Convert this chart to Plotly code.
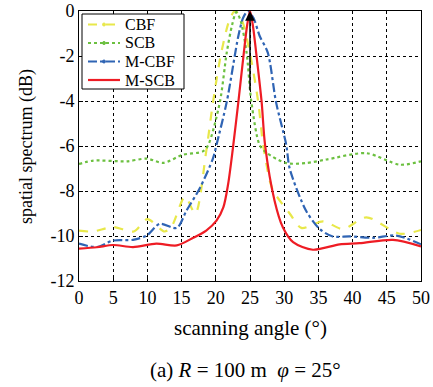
import plotly.graph_objects as go

cbf_x = [0, 2, 5, 8, 10, 12.5, 13.5, 15.5, 17, 18.6, 19.6, 20.8, 22, 22.8, 23.8, 25, 26.2, 26.9, 27.9, 28.4, 30.8, 32.5, 35.7, 38.6, 42, 46.9, 50]
cbf_y = [-9.76, -9.8, -9.6, -9.8, -9.25, -9.8, -9.6, -8.26, -9.0, -6.24, -4.04, -1.85, -0.4, 0, -0.4, -1.9, -4.04, -5.9, -7.56, -8.0, -9.0, -9.64, -9.35, -9.69, -9.17, -9.9, -9.73]

scb_x = [0, 2.1, 7.0, 9.9, 12.3, 15.2, 18.1, 18.9, 20.6, 21.6, 22.4, 23.0, 23.6, 24.5, 25.2, 26.4, 27.4, 30.3, 33.2, 36.2, 42.0, 46.9, 50]
scb_y = [-6.8, -6.65, -6.68, -6.56, -6.75, -6.39, -6.24, -5.95, -4.04, -1.85, -0.6, -0.05, -0.4, -1.85, -4.04, -5.95, -6.3, -6.76, -6.76, -6.6, -6.32, -6.83, -6.68]

mcbf_x = [0, 2.6, 5.0, 7.9, 9.9, 11.8, 14.3, 15.7, 17.7, 19.6, 20.1, 21.6, 23.3, 24.0, 24.7, 25.5, 26.4, 27.6, 28.8, 30.3, 30.8, 33.2, 35.2, 37.1, 39.6, 43.0, 46.4, 50]
mcbf_y = [-10.34, -10.49, -10.2, -10.17, -9.98, -9.46, -9.64, -8.88, -7.85, -6.54, -5.95, -4.04, -1.11, -0.3, 0, -0.3, -1.1, -1.85, -4.04, -5.95, -7.0, -8.88, -9.69, -10.02, -10.02, -10.08, -9.98, -10.37]

mscb_x = [0, 2.6, 5.0, 7.9, 11.3, 14.3, 16.7, 18.6, 20.1, 21.1, 21.8, 22.5, 23.3, 24.1, 24.6, 25.0, 25.4, 25.9, 26.7, 27.2, 28.6, 29.8, 31.3, 34.2, 38.1, 41.0, 45.9, 50]
mscb_y = [-10.56, -10.5, -10.4, -10.49, -10.34, -10.42, -10.08, -9.76, -9.32, -8.73, -7.7, -6.1, -4.04, -1.85, -0.6, 0, -0.6, -1.85, -4.04, -5.95, -8.44, -9.61, -10.27, -10.61, -10.37, -10.32, -10.17, -10.46]

x_ticks = [0, 5, 10, 15, 20, 25, 30, 35, 40, 45, 50]
y_ticks = [0, -2, -4, -6, -8, -10, -12]
y_tick_text = ["0", "-2", "-4", "-6", "-8", "-10", "-12"]

series_names = ["CBF", "SCB", "M-CBF", "M-SCB"]
series_colors = ["#e8e84a", "#6cc040", "#2f64b4", "#ee1c24"]
series_dash = ["dash", "dot", "dashdot", "solid"]

target_angle = 25
arrow_base = -3.6

FONT = "Liberation Serif, Times New Roman, serif"

fig = go.Figure()
for xs, ys, nm, col, dsh in zip([cbf_x, scb_x, mcbf_x, mscb_x], [cbf_y, scb_y, mcbf_y, mscb_y],
                                 series_names, series_colors, series_dash):
    fig.add_trace(go.Scatter(x=xs, y=ys, name=nm, mode="lines", showlegend=False,
                             line=dict(color=col, width=2.2, dash=dsh, shape="spline", smoothing=0.8)))

fig.add_annotation(x=target_angle, y=0, ax=target_angle, ay=arrow_base, xref="x", yref="y",
                   axref="x", ayref="y", showarrow=True, arrowhead=2, arrowsize=1.3,
                   arrowwidth=1.5, arrowcolor="black", text="")

W, H = 433, 387
L, R, T, B = 79, 12, 11, 106
pw, ph = W - L - R, H - T - B
def px(xp):
    return (xp - L) / pw
def py(yp):
    return 1 - (yp - T) / ph

# compact legend
fig.add_shape(type="rect", xref="paper", yref="paper", x0=px(82), x1=px(184), y0=py(89), y1=py(14),
              line=dict(color="black", width=1), fillcolor="white", layer="above")
leg_y = [24.5, 43, 61.5, 80]
for yy, nm, col, dsh in zip(leg_y, series_names, series_colors, series_dash):
    fig.add_shape(type="line", xref="paper", yref="paper", x0=px(88), x1=px(120), y0=py(yy), y1=py(yy),
                  line=dict(color=col, width=2.2, dash=dsh), layer="above")
    if dsh != "solid":
        fig.add_shape(type="circle", xref="paper", yref="paper", x0=px(102.5), x1=px(105.5),
                      y0=py(yy + 1.5), y1=py(yy - 1.5), line=dict(color=col, width=1), fillcolor=col,
                      layer="above")
    fig.add_annotation(text=nm, xref="paper", yref="paper", x=px(124), y=py(yy), xanchor="left",
                       yanchor="middle", showarrow=False, borderpad=0,
                       font=dict(family=FONT, size=16, color="black"))

# axis titles and caption
fig.add_annotation(text="scanning angle (°)", xref="paper", yref="paper",
                   x=0.5, y=py(328), xanchor="center", yanchor="middle", showarrow=False,
                   font=dict(family=FONT, size=21, color="black"))
fig.add_annotation(text="spatial spectrum (dB)", xref="paper", yref="paper", textangle=-90,
                   x=px(26), y=py(147), xanchor="center", yanchor="middle", showarrow=False,
                   font=dict(family=FONT, size=18, color="black"))
fig.add_annotation(text="(a) <i>R</i> = 100 m  <i>φ</i> = 25°", xref="paper", yref="paper",
                   x=px(245), y=py(370), xanchor="center", yanchor="middle", showarrow=False,
                   font=dict(family=FONT, size=21, color="black"))

axis_common = dict(showline=True, linecolor="black", linewidth=1, mirror=True,
                   showgrid=True, gridcolor="black", griddash="dot", gridwidth=1,
                   ticks="inside", ticklen=4, tickcolor="black", zeroline=False,
                   automargin=False, ticklabeloverflow="allow",
                   tickfont=dict(family=FONT, size=18, color="black"))

fig.update_layout(
    width=W, height=H,
    margin=dict(l=L, r=R, t=T, b=B, autoexpand=False),
    paper_bgcolor="white", plot_bgcolor="white",
    font=dict(family=FONT, color="black"),
    showlegend=False,
    xaxis=dict(range=[0, 50], tickvals=x_ticks, **axis_common),
    yaxis=dict(range=[-12, 0], tickvals=y_ticks, ticktext=y_tick_text, **axis_common),
)

fig.write_html("out.html")
